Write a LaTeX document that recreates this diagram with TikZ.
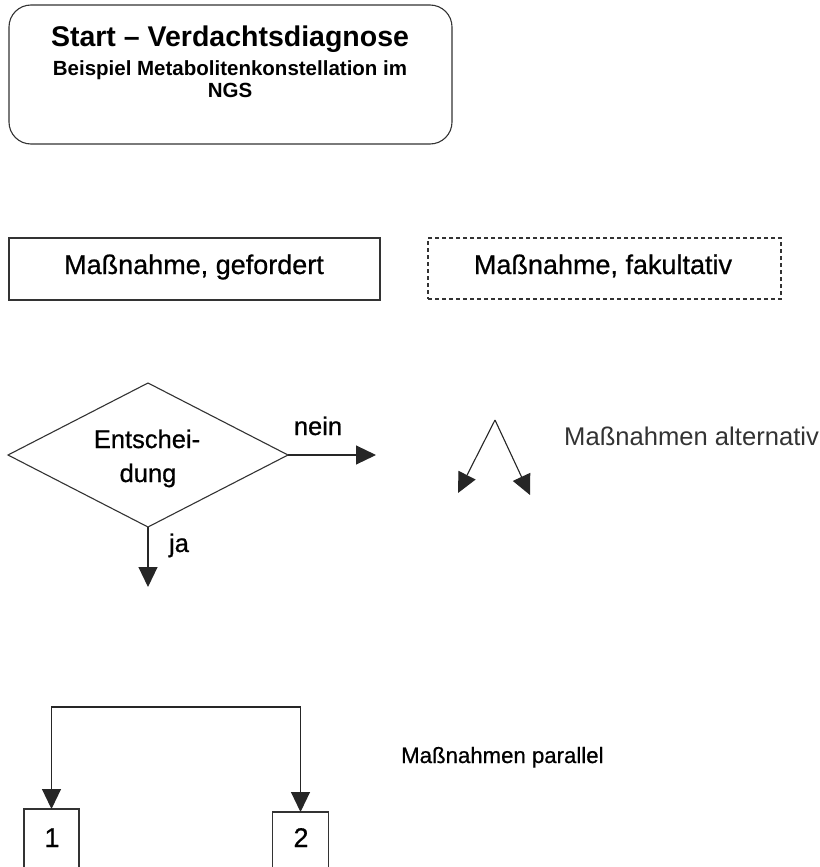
\documentclass[tikz,border=0pt]{standalone}
\usepackage{fontspec}
\setmainfont{Liberation Sans}
\newfontfamily\heavysans{Liberation Sans}[FakeBold=0.7]
\usetikzlibrary{arrows.meta,shapes.geometric}
\begin{document}
\begin{tikzpicture}[x=1pt,y=-1pt,
  outline/.style={draw=black!80,line width=1.1pt,inner sep=0pt,outer sep=0pt},
  head/.tip={Triangle[length=20pt,width=19pt]},
  conn/.style={draw=black!85,line width=1.1pt,-head},
  lbl/.style={inner sep=0pt,anchor=base},
  big/.style={font=\heavysans\fontsize{27}{32}\selectfont},
  mid/.style={font=\heavysans\fontsize{25.5}{30}\selectfont},
]
\fill[white] (0,0) rectangle (819,867);
\clip (0,0) rectangle (819,867);

% start box
\node[outline, rounded corners=22pt, minimum width=443pt, minimum height=139pt] (start) at (230.5,74.5) {};
\node[lbl, font=\bfseries\fontsize{28.5}{33}\selectfont] (starttitle) at (230,47) {Start – Verdachtsdiagnose};
\node[lbl, font=\bfseries\fontsize{20.5}{24}\selectfont] (startsub1) at (230,75) {Beispiel Metabolitenkonstellation im};
\node[lbl, font=\bfseries\fontsize{20.5}{24}\selectfont] (startsub2) at (230,97) {NGS};

% required and optional measures
\node[outline, minimum width=371pt, minimum height=62pt] (req) at (194.5,269) {};
\node[lbl, big] (reqtext) at (194,274) {Maßnahme, gefordert};
\node[outline, dashed, dash pattern=on 4pt off 3pt, minimum width=353pt, minimum height=61pt] (opt) at (604.5,268.5) {};
\node[lbl, big] (opttext) at (603,274) {Maßnahme, fakultativ};

% decision
\node[outline, diamond, shape aspect=1.94, minimum width=280pt, minimum height=144pt] (dec) at (148,455) {};
\node[lbl, mid] (dec1) at (147,448) {Entschei-};
\node[lbl, mid] (dec2) at (148,482) {dung};
\coordinate (noend) at (376,455);
\coordinate (yesend) at (148,587);
\draw[conn] (dec.east) -- (noend);
\draw[conn] (dec.south) -- (yesend);
\node[lbl, mid] (nolbl) at (318,435) {nein};
\node[lbl, mid] (yeslbl) at (179,552) {ja};

% alternative measures
\coordinate (altop) at (495,420);
\coordinate (altl) at (458,493);
\coordinate (altr) at (530,495);
\draw[conn] (altop) -- (altl);
\draw[conn] (altop) -- (altr);
\node[lbl, anchor=base west, text=black!80, font=\fontsize{25.6}{30}\selectfont] (alttext) at (564,445) {Maßnahmen alternativ};

% parallel measures
\node[outline, minimum width=55pt, minimum height=90pt, anchor=north] (p1) at (51.5,809) {};
\node[outline, minimum width=56pt, minimum height=90pt, anchor=north] (p2) at (300.5,812) {};
\node[lbl, big] (p1text) at (52,847) {1};
\node[lbl, big] (p2text) at (301,847) {2};
\coordinate (partop) at (176,707);
\draw[draw=black!85, line width=1.1pt, head-head]
  (p1.north) |- (partop) -| (p2.north);
\node[lbl, anchor=base west, font=\heavysans\fontsize{22.2}{27}\selectfont] (partext) at (401,763) {Maßnahmen parallel};
\end{tikzpicture}
\end{document}
